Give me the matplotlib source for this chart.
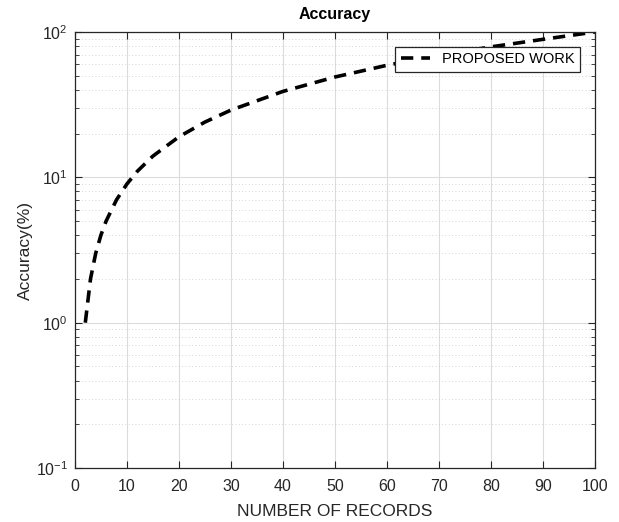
import matplotlib
matplotlib.use('Agg')
import matplotlib.pyplot as plt
from matplotlib.ticker import LogLocator, MultipleLocator

plt.rcParams['font.family'] = ['Liberation Sans', 'DejaVu Sans']

# values
records = [2, 3, 4, 5, 6, 8, 10, 12, 15, 20, 25, 30, 40, 50, 60, 70, 80, 90, 100]
accuracy = [1, 2, 3, 4, 5, 7, 9, 11, 14, 19, 24, 29, 39, 49, 59, 69, 79, 89, 100]

fig = plt.figure(figsize=(6.19, 5.22), dpi=100)
ax = fig.add_axes([0.121, 0.1034, 0.840, 0.8353])

ax.plot(records, accuracy, 'k--', lw=2.6, dashes=(3.4, 2.2), label='PROPOSED WORK')

ax.set_yscale('log')
ax.set_xlim(0, 100)
ax.set_ylim(0.1, 100)
ax.xaxis.set_major_locator(MultipleLocator(10))
ax.yaxis.set_major_locator(LogLocator(base=10, numticks=10))
ax.yaxis.set_minor_locator(LogLocator(base=10, subs=range(2, 10), numticks=10))

ax.grid(True, which='major', color='#dcdcdc', lw=0.8, ls='-')
ax.grid(True, which='minor', axis='y', color='#c8c8c8', lw=0.6, ls=(0, (1, 3)))
ax.set_axisbelow(True)

ax.tick_params(which='both', direction='in', top=True, right=True, labelsize=11.5, colors='#262626')
ax.tick_params(which='major', length=5)
ax.tick_params(axis='x', which='major', pad=8)
ax.tick_params(axis='y', which='major', pad=5)
ax.tick_params(which='minor', length=3)
for s in ax.spines.values():
    s.set_color('#262626')
    s.set_linewidth(0.9)

ax.set_title('Accuracy', fontsize=11.5, fontweight='bold', pad=9)
ax.set_xlabel('NUMBER OF RECORDS', fontsize=12.5, color='#262626', labelpad=7)
ax.set_ylabel('Accuracy(%)', fontsize=12.5, color='#262626', labelpad=2)

leg = ax.legend(loc='upper right', fontsize=10.5, fancybox=False, framealpha=1,
                edgecolor='#262626', borderaxespad=1.0, handlelength=2.0)
leg.get_frame().set_linewidth(0.9)

fig.savefig('out.png', dpi=100)
